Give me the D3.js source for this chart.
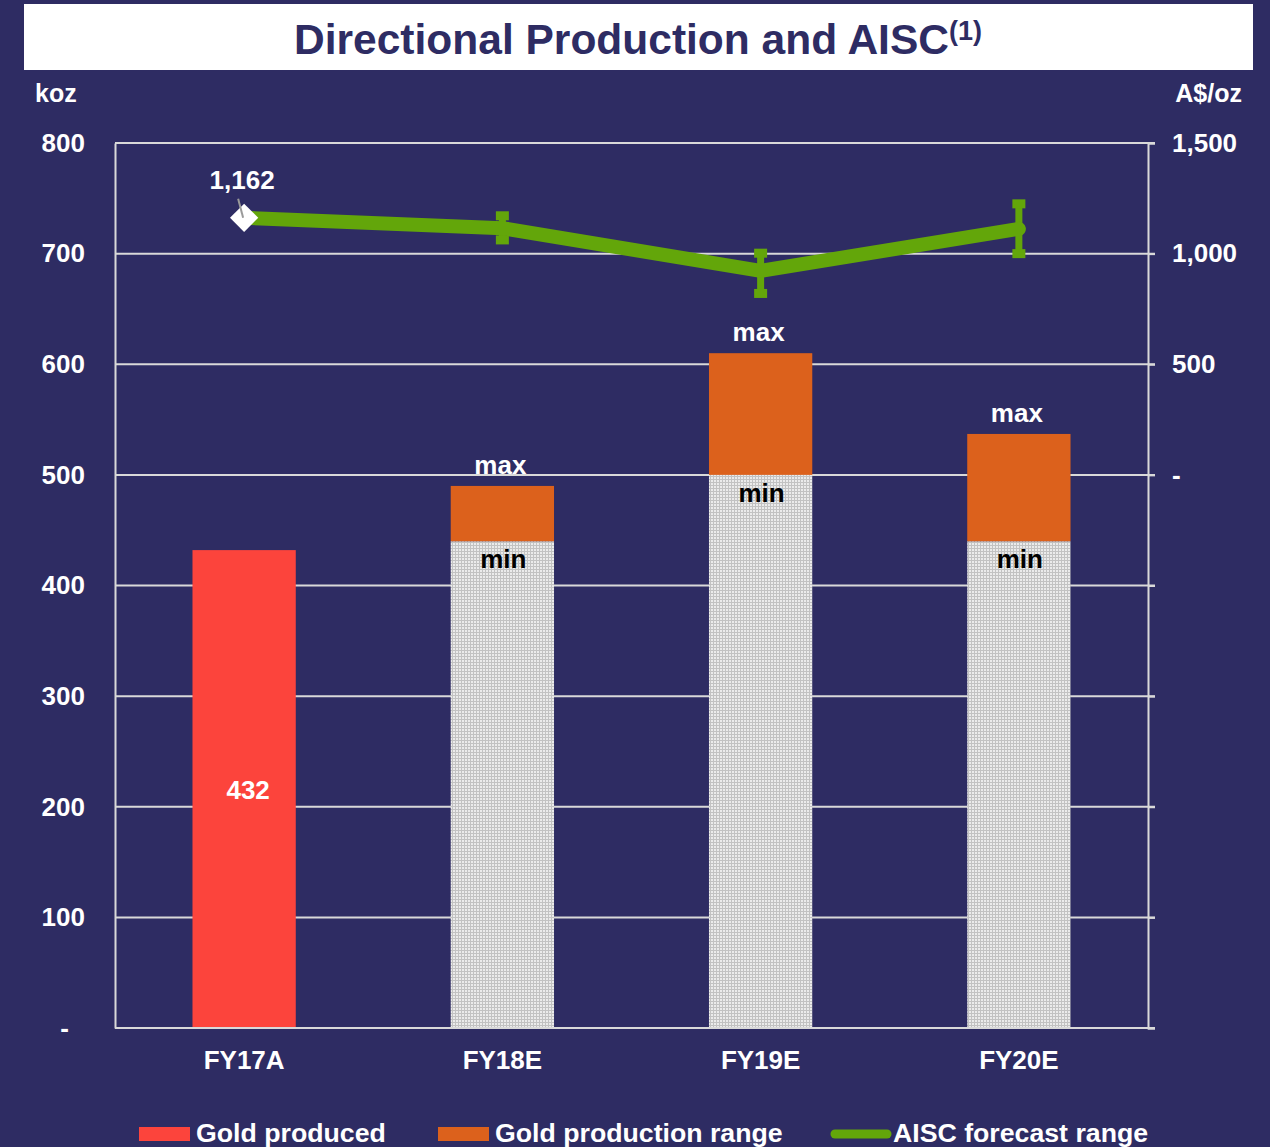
<!DOCTYPE html>
<html>
<head>
<meta charset="utf-8">
<script src="https://cdn.jsdelivr.net/npm/d3@7"></script>
<style>
html,body{margin:0;padding:0;background:#2E2C63;}
svg{display:block;font-family:"Liberation Sans",Arial,sans-serif;font-weight:bold;}
</style>
</head>
<body>
<svg id="chart" width="1270" height="1147"></svg>
<script>
// ---- data ----
const categories = ["FY17A", "FY18E", "FY19E", "FY20E"];
const goldProduced = [432, null, null, null];
const productionMin = [null, 440, 500, 440];
const productionMax = [null, 490, 610, 537];
const aiscPoint = [1162, 1115, 922, 1112];
const aiscLow = [null, 1062, 820, 1000];
const aiscHigh = [null, 1171, 1002, 1225];
const leftTicks = [0, 100, 200, 300, 400, 500, 600, 700, 800];
const rightTicks = [-2500, -2000, -1500, -1000, -500, 0, 500, 1000, 1500];
const legendItems = ["Gold produced", "Gold production range", "AISC forecast range"];
const titleText = "Directional Production and AISC";
const titleNote = "(1)";

// ---- layout ----
const W = 1270, H = 1147;
const plot = {left: 115, right: 1148, top: 143, bottom: 1028};
const BG = "#2E2C63", RED = "#FC443C", ORANGE = "#DC611C", GREEN = "#63A60A", GRID = "#D9D9D9";

const svg = d3.select("#chart");
svg.append("rect").attr("width", W).attr("height", H).attr("fill", BG);

// pattern for min portion
const defs = svg.append("defs");
const pat = defs.append("pattern").attr("id", "dots").attr("patternUnits", "userSpaceOnUse")
  .attr("width", 3).attr("height", 3);
pat.append("rect").attr("width", 3).attr("height", 3).attr("fill", "#C2C2C2");
pat.append("rect").attr("width", 2).attr("height", 2).attr("fill", "#EBEBEB");

// title
svg.append("rect").attr("x", 24).attr("y", 4).attr("width", 1229).attr("height", 66).attr("fill", "#FFFFFF");
const title = svg.append("text").attr("x", 638).attr("y", 54).attr("text-anchor", "middle")
  .attr("fill", BG).attr("font-size", 42.5).text(titleText);
title.append("tspan").attr("font-size", 27).attr("dy", -14).text(titleNote);

// scales
const x = d3.scalePoint().domain(categories).range([plot.left, plot.right]).padding(0.5);
const barW = x.step() * 0.4;
const yL = d3.scaleLinear().domain([0, 800]).range([plot.bottom, plot.top]);
const yR = d3.scaleLinear().domain([-2500, 1500]).range([plot.bottom, plot.top]);

// gridlines
svg.append("g").selectAll("line").data(leftTicks.filter(d => d > 0)).join("line")
  .attr("x1", plot.left).attr("x2", plot.right + 7)
  .attr("y1", d => yL(d)).attr("y2", d => yL(d))
  .attr("stroke", GRID).attr("stroke-width", 2);

// left axis
const gL = svg.append("g").attr("transform", `translate(${plot.left},0)`)
  .call(d3.axisLeft(yL).tickValues(leftTicks).tickSize(0).tickPadding(30)
    .tickFormat(d => d === 0 ? "-" : d3.format(",")(d)));
gL.select(".domain").attr("stroke", GRID).attr("stroke-width", 2);
gL.selectAll("text").attr("fill", "#FFFFFF").attr("font-size", 26)
  .attr("font-family", "Liberation Sans, Arial, sans-serif").attr("font-weight", "bold")
  .attr("dx", d => d === 0 ? -16 : 0);

// right axis
const gR = svg.append("g").attr("transform", `translate(${plot.right},0)`)
  .call(d3.axisRight(yR).tickValues(rightTicks).tickSize(7).tickPadding(17)
    .tickFormat(d => d < 0 ? "" : d === 0 ? "-" : d3.format(",")(d)));
gR.select(".domain").attr("stroke", GRID).attr("stroke-width", 2);
gR.selectAll(".tick line").attr("stroke", GRID).attr("stroke-width", 2);
gR.selectAll("text").attr("fill", "#FFFFFF").attr("font-size", 26)
  .attr("font-family", "Liberation Sans, Arial, sans-serif").attr("font-weight", "bold");

// axis unit labels
svg.append("text").attr("x", 35).attr("y", 102).attr("fill", "#FFF").attr("font-size", 25).text("koz");
svg.append("text").attr("x", 1242).attr("y", 102).attr("fill", "#FFF").attr("font-size", 25)
  .attr("text-anchor", "end").text("A$/oz");

// bars
const idx = d3.range(categories.length);
svg.append("g").selectAll("rect").data(idx.filter(i => goldProduced[i] != null)).join("rect")
  .attr("x", i => x(categories[i]) - barW / 2).attr("width", barW)
  .attr("y", i => yL(goldProduced[i])).attr("height", i => yL(0) - yL(goldProduced[i]))
  .attr("fill", RED);
const rng = idx.filter(i => productionMin[i] != null);
svg.append("g").selectAll("rect").data(rng).join("rect")
  .attr("x", i => x(categories[i]) - barW / 2).attr("width", barW)
  .attr("y", i => yL(productionMin[i])).attr("height", i => yL(0) - yL(productionMin[i]))
  .attr("fill", "url(#dots)");
svg.append("g").selectAll("rect").data(rng).join("rect")
  .attr("x", i => x(categories[i]) - barW / 2).attr("width", barW)
  .attr("y", i => yL(productionMax[i])).attr("height", i => yL(productionMin[i]) - yL(productionMax[i]))
  .attr("fill", ORANGE);

// bottom axis line
svg.append("line").attr("x1", plot.left).attr("x2", plot.right + 7)
  .attr("y1", plot.bottom).attr("y2", plot.bottom).attr("stroke", GRID).attr("stroke-width", 2);

// category labels
svg.append("g").selectAll("text").data(categories).join("text")
  .attr("x", d => x(d)).attr("y", 1069).attr("text-anchor", "middle")
  .attr("fill", "#FFF").attr("font-size", 26).text(d => d);

// bar labels
svg.append("g").selectAll("text").data(idx.filter(i => goldProduced[i] != null)).join("text")
  .attr("x", i => x(categories[i]) + 4).attr("y", i => yL(goldProduced[i] / 2) + 10)
  .attr("text-anchor", "middle").attr("fill", "#FFF").attr("font-size", 26).text(i => goldProduced[i]);
svg.append("g").selectAll("text").data(rng).join("text")
  .attr("x", i => x(categories[i]) - 2).attr("y", i => yL(productionMax[i]) - 12)
  .attr("text-anchor", "middle").attr("fill", "#FFF").attr("font-size", 26).text("max");
svg.append("g").selectAll("text").data(rng).join("text")
  .attr("x", i => x(categories[i]) + 1).attr("y", i => yL(productionMin[i]) + 27)
  .attr("text-anchor", "middle").attr("fill", "#000").attr("font-size", 26).text("min");

// AISC error bars
const eb = idx.filter(i => aiscLow[i] != null);
const gE = svg.append("g").attr("fill", GREEN);
gE.selectAll("rect.stem").data(eb).join("rect").attr("class", "stem")
  .attr("x", i => x(categories[i]) - 3.5).attr("width", 7)
  .attr("y", i => yR(aiscHigh[i])).attr("height", i => yR(aiscLow[i]) - yR(aiscHigh[i]));
gE.selectAll("rect.capH").data(eb).join("rect").attr("class", "capH")
  .attr("x", i => x(categories[i]) - 6.5).attr("width", 13)
  .attr("y", i => yR(aiscHigh[i]) - 4.5).attr("height", 9);
gE.selectAll("rect.capL").data(eb).join("rect").attr("class", "capL")
  .attr("x", i => x(categories[i]) - 6.5).attr("width", 13)
  .attr("y", i => yR(aiscLow[i]) - 4.5).attr("height", 9);

// AISC line
const line = d3.line().x((d, i) => x(categories[i])).y(d => yR(d));
svg.append("path").datum(aiscPoint).attr("d", line)
  .attr("fill", "none").attr("stroke", GREEN).attr("stroke-width", 14)
  .attr("stroke-linejoin", "round").attr("stroke-linecap", "round");

// diamond marker on actual + label
const cx0 = x(categories[0]), cy0 = yR(aiscPoint[0]);
svg.append("path").attr("d", d3.symbol(d3.symbolSquare, 400)())
  .attr("transform", `translate(${cx0},${cy0}) rotate(45)`).attr("fill", "#FFF");
svg.append("line").attr("x1", cx0 - 6).attr("y1", cy0 - 19).attr("x2", cx0 - 1).attr("y2", cy0)
  .attr("stroke", "#9A9A9A").attr("stroke-width", 2);
svg.append("text").attr("x", cx0 - 2).attr("y", cy0 - 29).attr("text-anchor", "middle")
  .attr("fill", "#FFF").attr("font-size", 26).text(d3.format(",")(aiscPoint[0]));

// legend
const legX = [139, 438, 831];
const lg = svg.append("g");
legendItems.forEach((t, i) => {
  if (i < 2) {
    lg.append("rect").attr("x", legX[i]).attr("y", 1127).attr("width", 51).attr("height", 14)
      .attr("fill", i === 0 ? RED : ORANGE);
    lg.append("text").attr("x", legX[i] + 57).attr("y", 1142).attr("fill", "#FFF").attr("font-size", 26.7).text(t);
  } else {
    lg.append("line").attr("x1", legX[i] + 4).attr("x2", legX[i] + 56).attr("y1", 1134).attr("y2", 1134)
      .attr("stroke", GREEN).attr("stroke-width", 9).attr("stroke-linecap", "round");
    lg.append("text").attr("x", legX[i] + 62).attr("y", 1142).attr("fill", "#FFF").attr("font-size", 26.7).text(t);
  }
});
</script>
</body>
</html>
